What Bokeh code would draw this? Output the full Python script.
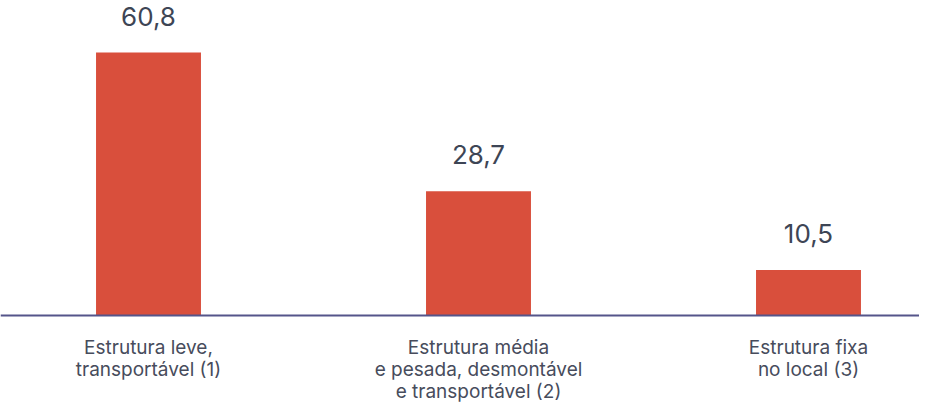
from bokeh.plotting import figure
from bokeh.models import ColumnDataSource, Range1d, LabelSet, Span
from bokeh.core.properties import value
from bokeh.embed import file_html
from bokeh.resources import INLINE

categories = ["Estrutura leve,\ntransportável (1)",
              "Estrutura média\ne pesada, desmontável\ne transportável (2)",
              "Estrutura fixa\nno local (3)"]
values = [60.8, 28.7, 10.5]
value_labels = ["60,8", "28,7", "10,5"]

xpos = [0.5, 1.5, 2.5]
src = ColumnDataSource(dict(x=xpos, top=values, lab=value_labels))

p = figure(width=919, height=402, output_backend="svg", toolbar_location=None,
           x_range=Range1d(0.0515, 2.8364), y_range=Range1d(-20.11, 72.82),
           min_border_left=0, min_border_right=0, min_border_top=0, min_border_bottom=0)

p.vbar(x="x", top="top", width=0.318, source=src, color="#d94f3c", line_color=None)

p.add_layout(Span(location=0, dimension="width", line_color="#55558a", line_width=2))

vlabels = LabelSet(x="x", y="top", text="lab", source=src, text_align="center",
                   text_baseline="alphabetic", y_offset=27, text_font=value("Inter"),
                   text_font_size="26px", text_color="#3d4555")
p.add_layout(vlabels)

# category labels, one centred line at a time
split = [c.split("\n") for c in categories]
nlines = max(len(s) for s in split)
for i in range(nlines):
    xs = [x for x, s in zip(xpos, split) if len(s) > i]
    ts = [s[i] for s in split if len(s) > i]
    lsrc = ColumnDataSource(dict(x=xs, y=[0] * len(xs), t=ts))
    p.add_layout(LabelSet(x="x", y="y", text="t", source=lsrc, text_align="center",
                          text_baseline="alphabetic", y_offset=-(38 + 22 * i),
                          text_font=value("Inter"), text_font_size="19px",
                          text_color="#474c5c"))

p.xaxis.visible = False
p.yaxis.visible = False
p.xgrid.visible = False
p.ygrid.visible = False
p.outline_line_color = None

open("out.html", "w").write(file_html(p, INLINE))
